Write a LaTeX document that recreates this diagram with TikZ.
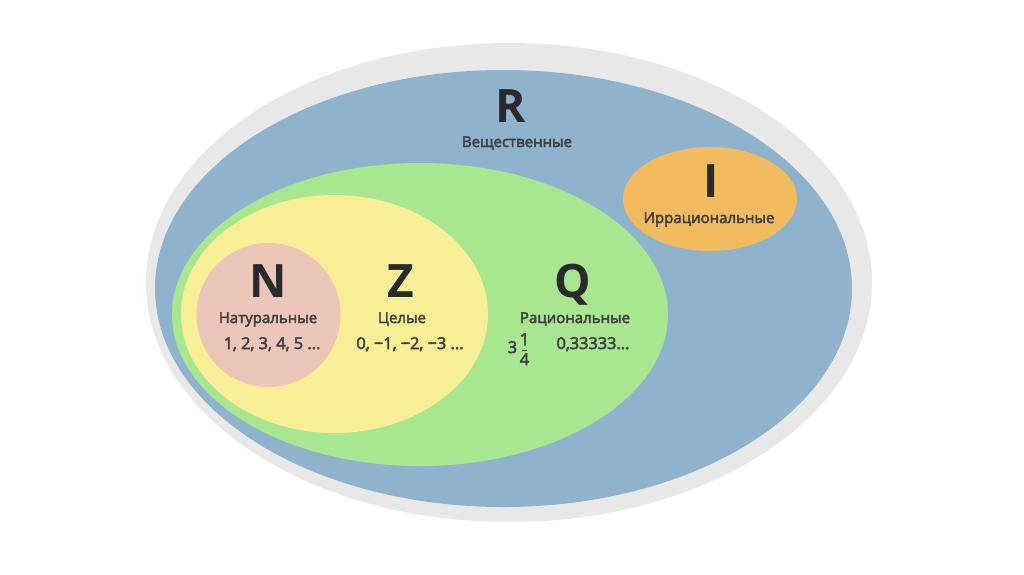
\documentclass[tikz,border=0pt]{standalone}
\usepackage{fontspec}
\setmainfont{Open Sans}
\newfontfamily\lblfont{Open Sans}[FakeBold=3]
\definecolor{cgray}{HTML}{E8E8E8}
\definecolor{cblue}{HTML}{8FB3CC}
\definecolor{cgreen}{HTML}{A8E690}
\definecolor{cyellow}{HTML}{F7EE96}
\definecolor{cpink}{HTML}{EDC6BA}
\definecolor{corange}{HTML}{F2BB60}
\definecolor{ctext}{HTML}{2A2A2A}
\begin{document}
\begin{tikzpicture}[x=1pt,y=-1pt,
  bigletter/.style={font=\fontsize{46}{46}\selectfont\bfseries, text=ctext, inner sep=0pt, anchor=base},
  setlabel/.style={font=\fontsize{15}{15}\selectfont\lblfont, text=ctext!90, inner sep=0pt, anchor=base},
  example/.style={font=\fontsize{16.3}{16.3}\selectfont\lblfont, text=ctext!90, inner sep=0pt, anchor=base}]
\useasboundingbox (0,0) rectangle (1024,574);
\fill[white] (0,0) rectangle (1024,574);
% sets
\fill[cgray] (509,282.5) ellipse [x radius=363pt, y radius=239.5pt];
\fill[cblue] (503.5,288.5) ellipse [x radius=348.5pt, y radius=218.5pt];
\fill[cgreen] (420,314.5) ellipse [x radius=248pt, y radius=151.5pt];
\fill[cyellow] (334.5,314) ellipse [x radius=153.5pt, y radius=119pt];
\fill[cpink] (268.5,315) circle [radius=72pt];
\fill[corange] (710,199) ellipse [x radius=87pt, y radius=52pt];
% R
\node[bigletter] (R) at (511,122) {R};
\node[setlabel] (Rl) at (517,147) {Вещественные};
% I
\node[bigletter] (I) at (711,197) {I};
\node[setlabel] (Il) at (709,223) {Иррациональные};
% N
\node[bigletter] (N) at (268,297) {N};
\node[setlabel] (Nl) at (268,323) {Натуральные};
\node[example] (Ne) at (272,349) {1, 2, 3, 4, 5 ...};
% Z
\node[bigletter] (Z) at (401,297) {Z};
\node[setlabel] (Zl) at (402,323) {Целые};
\node[example] (Ze) at (410,349) {0, −1, −2, −3 ...};
% Q
\node[bigletter] (Q) at (573,297) {Q};
\node[setlabel] (Ql) at (575,323) {Рациональные};
\node[example] (Q3) at (512.5,353) {3};
\node[example] (Qn) at (524.5,345) {1};
\node[example] (Qd) at (524.5,365) {4};
\draw[ctext!90, line width=1.1pt] ([xshift=-2.5pt,yshift=2.5pt]Qd.north) -- ([xshift=2.5pt,yshift=2.5pt]Qd.north);
\node[example] (Qe) at (593,349) {0,33333...};
\end{tikzpicture}
\end{document}
